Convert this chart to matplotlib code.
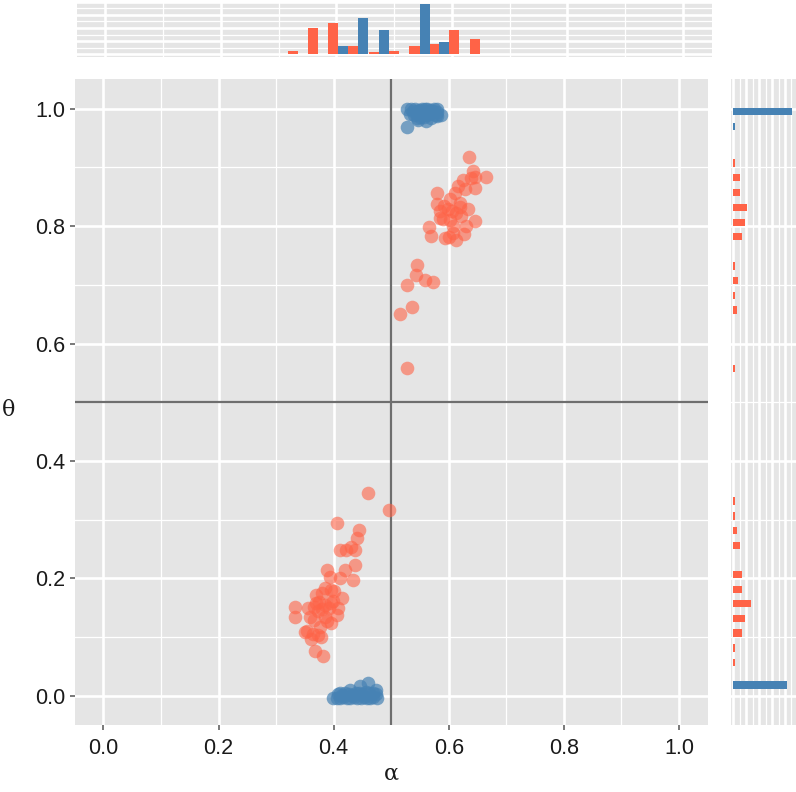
import numpy as np
import matplotlib
matplotlib.use("Agg")
import matplotlib.pyplot as plt

# ---------------- data ----------------
RED = "#FF6347"
BLUE = "#4682B4"

red_alpha = [0.635, 0.642, 0.645, 0.665, 0.645, 0.616, 0.628, 0.580, 0.580, 0.602,
             0.619, 0.634, 0.584, 0.599, 0.613, 0.584, 0.602, 0.645, 0.630, 0.607,
             0.566, 0.570, 0.593, 0.607, 0.622, 0.545, 0.543, 0.558, 0.572, 0.528,
             0.536, 0.516, 0.528,
             0.638, 0.625, 0.610, 0.592, 0.620, 0.606, 0.590, 0.600, 0.626, 0.612,
             0.459, 0.497, 0.405, 0.444, 0.441, 0.411, 0.422, 0.437, 0.437, 0.419,
             0.388, 0.393, 0.434, 0.411, 0.370, 0.379, 0.414, 0.396, 0.370, 0.408,
             0.333, 0.333, 0.359, 0.385, 0.405, 0.396, 0.376, 0.353, 0.364, 0.373,
             0.360, 0.367, 0.382,
             0.430, 0.385, 0.400, 0.375, 0.385, 0.395, 0.380, 0.365, 0.392, 0.372,
             0.398, 0.355, 0.365, 0.388, 0.350, 0.378]
red_theta = [0.917, 0.894, 0.884, 0.884, 0.865, 0.868, 0.863, 0.857, 0.837, 0.846,
             0.840, 0.829, 0.826, 0.829, 0.823, 0.814, 0.811, 0.809, 0.800, 0.800,
             0.799, 0.783, 0.779, 0.789, 0.817, 0.733, 0.716, 0.708, 0.704, 0.699,
             0.663, 0.651, 0.559,
             0.882, 0.878, 0.856, 0.835, 0.832, 0.826, 0.812, 0.782, 0.786, 0.776,
             0.345, 0.317, 0.294, 0.282, 0.269, 0.249, 0.249, 0.249, 0.222, 0.214,
             0.214, 0.203, 0.197, 0.201, 0.172, 0.175, 0.166, 0.181, 0.158, 0.149,
             0.152, 0.134, 0.134, 0.135, 0.138, 0.124, 0.118, 0.110, 0.106, 0.104,
             0.097, 0.077, 0.068,
             0.254, 0.183, 0.178, 0.160, 0.155, 0.158, 0.148, 0.152, 0.150, 0.145,
             0.162, 0.150, 0.130, 0.128, 0.108, 0.100]

blue_alpha = [0.527, 0.535, 0.542, 0.548, 0.553, 0.558, 0.563, 0.568, 0.574, 0.580,
              0.532, 0.540, 0.546, 0.551, 0.556, 0.561, 0.566, 0.571, 0.577, 0.586,
              0.538, 0.545, 0.552, 0.559, 0.565, 0.572, 0.579,
              0.547, 0.561, 0.579, 0.527, 0.550, 0.557, 0.544, 0.569,
              0.399, 0.405, 0.411, 0.417, 0.423, 0.429, 0.435, 0.441, 0.447, 0.452,
              0.458, 0.464, 0.469, 0.475,
              0.408, 0.414, 0.420, 0.426, 0.432, 0.438, 0.444, 0.450, 0.456, 0.462,
              0.468, 0.473, 0.428, 0.445, 0.460, 0.474, 0.411]
blue_theta = [1.000, 0.999, 1.000, 0.998, 1.000, 0.999, 1.000, 0.998, 0.999, 1.000,
              0.991, 0.990, 0.993, 0.989, 0.992, 0.990, 0.991, 0.993, 0.989, 0.990,
              0.996, 0.995, 0.996, 0.994, 0.995, 0.996, 0.995,
              0.981, 0.979, 0.988, 0.969, 0.985, 0.986, 0.984, 0.984,
              -0.004, -0.003, -0.004, -0.002, -0.004, -0.003, -0.002, -0.004, -0.003, -0.002,
              -0.004, -0.003, -0.002, -0.004,
              0.003, 0.002, 0.004, 0.003, 0.002, 0.005, 0.004, 0.003, 0.006, 0.005,
              0.004, 0.003, 0.010, 0.016, 0.0225, 0.010, 0.004]

# top marginal histogram (alpha), dodged bins
top_bin_centers = [0.334, 0.369, 0.403, 0.438, 0.474, 0.509, 0.544, 0.578, 0.613, 0.648]
top_bin_width = 0.0347
top_red_counts = [2, 15, 18, 5, 1, 2, 5, 6, 14, 9]
top_blue_counts = [0, 0, 5, 21, 14, 0, 29, 7, 0, 0]

# right marginal histogram (theta)
right_bar_height = 0.01245
right_red_theta = [0.9074, 0.8827, 0.8568, 0.8319, 0.8065, 0.7821, 0.7323, 0.7071,
                   0.6815, 0.6571, 0.5575, 0.3316, 0.3061, 0.2820, 0.2564, 0.2067,
                   0.1814, 0.1569, 0.1316, 0.1072, 0.0817, 0.0563]
right_red_counts = [1, 4, 4, 8, 7, 5, 1, 3, 1, 2, 1, 1, 1, 2, 4, 5, 5, 10, 7, 5, 1, 1]
right_blue_theta = [0.9952, 0.970, 0.0186]
right_blue_counts = [34, 1, 31]

x_major = [0.0, 0.2, 0.4, 0.6, 0.8, 1.0]
x_minor = [0.1, 0.3, 0.5, 0.7, 0.9]
x_labels = ["0.0", "0.2", "0.4", "0.6", "0.8", "1.0"]

# ---------------- figure ----------------
W, H = 796, 792
fig = plt.figure(figsize=(W / 100, H / 100), dpi=100)
BG = "#E5E5E5"
MAJ_LW = 1.9
MIN_LW = 0.9


def px_axes(l, t, r, b):
    return fig.add_axes([l / W, 1 - b / H, (r - l) / W, (b - t) / H])


def style(ax):
    ax.set_facecolor(BG)
    for s in ax.spines.values():
        s.set_visible(False)
    ax.set_axisbelow(True)
    ax.grid(which="major", color="white", lw=MAJ_LW)
    ax.grid(which="minor", color="white", lw=MIN_LW)


# main panel
ax = px_axes(74.7, 79.3, 707.7, 725.2)
style(ax)
ax.set_xlim(-0.05, 1.05)
ax.set_ylim(-0.05, 1.05)
ax.set_xticks(x_major)
ax.set_xticks(x_minor, minor=True)
ax.set_yticks(x_major)
ax.set_yticks(x_minor, minor=True)
ax.set_xticklabels(x_labels)
ax.set_yticklabels(x_labels)
ax.tick_params(which="major", length=3.6, width=1.1, color="#555555",
               labelsize=15.5, labelcolor="#1a1a1a", pad=3)
ax.tick_params(axis="x", which="major", pad=5.5)
ax.tick_params(which="minor", length=0)
for lab in ax.get_xticklabels() + ax.get_yticklabels():
    lab.set_family("Liberation Sans")
ax.axvline(0.5, color="#6e6e6e", lw=1.6, zorder=1.5)
ax.axhline(0.5, color="#6e6e6e", lw=1.6, zorder=1.5)
ax.scatter(red_alpha, red_theta, s=96, color=RED, alpha=0.6, lw=0, zorder=3)
ax.scatter(blue_alpha, blue_theta, s=96, color=BLUE, alpha=0.7, lw=0, zorder=3)

# top marginal histogram
axt = px_axes(76.5, 1.7, 711.7, 56.7)
style(axt)
axt.set_xlim(-0.05, 1.05)
axt.set_ylim(-1.45, 30.45)
axt.set_xticks(x_major)
axt.set_xticks(x_minor, minor=True)
axt.set_yticks(np.arange(0, 31, 7.6))
axt.set_yticks(np.arange(3.8, 31, 7.6), minor=True)
axt.tick_params(which="both", length=0, labelbottom=False, labelleft=False)
tc = np.array(top_bin_centers)
axt.bar(tc - top_bin_width / 4, top_red_counts, width=top_bin_width / 2,
        color=RED, lw=0, zorder=3)
axt.bar(tc + top_bin_width / 4, top_blue_counts, width=top_bin_width / 2,
        color=BLUE, lw=0, zorder=3)

# right marginal histogram
axr = px_axes(731, 79.3, 797, 725.2)
style(axr)
axr.set_ylim(-0.05, 1.05)
axr.set_xlim(-1.33, 36.95)
axr.set_yticks(x_major)
axr.set_yticks(x_minor, minor=True)
axr.set_xticks(np.arange(0, 37, 7.5))
axr.set_xticks(np.arange(3.75, 37, 7.5), minor=True)
axr.tick_params(which="both", length=0, labelbottom=False, labelleft=False)
axr.barh(right_red_theta, right_red_counts, height=right_bar_height,
         color=RED, lw=0, zorder=3)
axr.barh(right_blue_theta, right_blue_counts, height=right_bar_height,
         color=BLUE, lw=0, zorder=3)

# axis titles
fig.text(391 / W, 1 - 774 / H, "α", ha="center", va="center", fontsize=16,
         family="DejaVu Serif", color="#1a1a1a")
fig.text(9 / W, 1 - 410 / H, "θ", ha="center", va="center", fontsize=16,
         family="DejaVu Serif", color="#1a1a1a")

fig.savefig("out.png", dpi=100)
